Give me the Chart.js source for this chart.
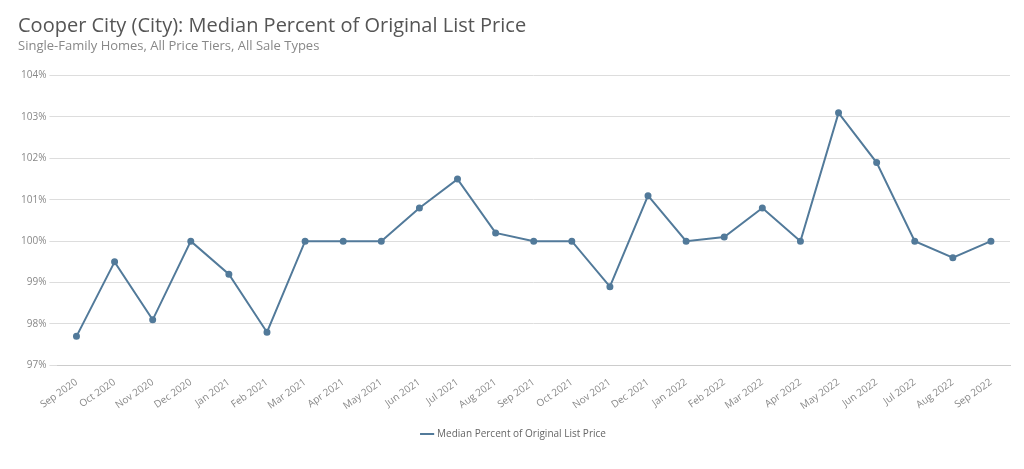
<!DOCTYPE html>
<html><head><meta charset="utf-8">
<script src="https://cdn.jsdelivr.net/npm/chart.js@4"></script>
<style>html,body{margin:0;padding:0;background:#fff}#w{width:1024px;height:469px}</style>
</head><body><div id="w"><canvas id="c"></canvas></div>
<script>
const categories=["Sep 2020","Oct 2020","Nov 2020","Dec 2020","Jan 2021","Feb 2021","Mar 2021","Apr 2021","May 2021","Jun 2021","Jul 2021","Aug 2021","Sep 2021","Oct 2021","Nov 2021","Dec 2021","Jan 2022","Feb 2022","Mar 2022","Apr 2022","May 2022","Jun 2022","Jul 2022","Aug 2022","Sep 2022"];
const values=[97.7,99.5,98.1,100,99.2,97.8,100,100,100,100.8,101.5,100.2,100,100,98.9,101.1,100,100.1,100.8,100,103.1,101.9,100,99.6,100];
const seriesName="Median Percent of Original List Price";
const titleText="Cooper City (City): Median Percent of Original List Price";
const subtitleText="Single-Family Homes, All Price Tiers, All Sale Types";
const col="#527a9a";
new Chart(document.getElementById('c'),{type:'line',
data:{labels:categories,datasets:[{label:seriesName,data:values,borderColor:col,backgroundColor:col,borderWidth:2,pointRadius:2.5,pointBackgroundColor:col,tension:0}]},
options:{responsive:true,maintainAspectRatio:false,animation:false,
layout:{padding:{left:18,right:14,top:10,bottom:20}},
plugins:{title:{display:true,text:titleText,align:'start',color:'#555',font:{family:'Open Sans',size:20,weight:'normal'},padding:{top:4,bottom:0}},
subtitle:{display:true,text:subtitleText,align:'start',color:'#888',font:{family:'Open Sans',size:13},padding:{bottom:22}},
legend:{position:'bottom',labels:{usePointStyle:true,pointStyle:'line',color:'#666',font:{family:'Open Sans',size:10},boxWidth:20,padding:14}}},
scales:{x:{offset:true,grid:{display:false},border:{color:'#ccc'},ticks:{color:'#888',font:{family:'Open Sans',size:10},maxRotation:35,minRotation:35,autoSkip:false}},
y:{min:97,max:104,grid:{color:'#ddd'},border:{display:false},ticks:{stepSize:1,color:'#888',font:{family:'Open Sans',size:10},callback:v=>v+'%'}}}}});
</script></body></html>
